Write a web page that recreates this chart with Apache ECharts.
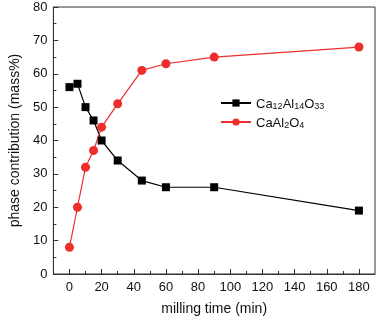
<!DOCTYPE html>
<html>
<head>
<meta charset="utf-8">
<script src="https://cdn.jsdelivr.net/npm/echarts@6/dist/echarts.min.js"></script>
<style>
  html, body { margin: 0; padding: 0; background: #fff; }
  #chart { width: 378px; height: 321px; }
</style>
</head>
<body>
<div id="chart"></div>
<script>
// milling time (min)
const times = [0, 5, 10, 15, 20, 30, 45, 60, 90, 180];
// phase contribution (mass%)
const ca12 = [56, 57, 50, 46, 40, 34, 28, 26, 26, 19];
const caal2 = [8, 20, 32, 37, 44, 51, 61, 63, 65, 68];
// x tick positions
const xMajor = [0, 20, 40, 60, 80, 100, 120, 140, 160, 180];
const xMinor = [10, 30, 50, 70, 90, 110, 130, 150, 170];

const pairs = (ys) => times.map((t, i) => [t, ys[i]]);

const chart = echarts.init(document.getElementById("chart"));
const font = "Liberation Sans, Arial, sans-serif";

const option = {
  animation: false,
  textStyle: { fontFamily: font },
  grid: {
    left: 36,
    right: 3,
    top: 7,
    bottom: 42,
    show: true,
    borderColor: "#333",
    borderWidth: 1,
  },
  legend: {
    left: 215,
    top: 93,
    orient: "vertical",
    itemWidth: 30,
    itemHeight: 9,
    itemGap: 6,
    data: ["Ca12Al14O33", "CaAl2O4"],
    formatter: function (name) {
      // subscripts
      if (name === "Ca12Al14O33") return "{n|Ca}{s|12}{n|Al}{s|14}{n|O}{s|33}";
      return "{n|CaAl}{s|2}{n|O}{s|4}";
    },
    textStyle: {
      rich: {
        n: { fontSize: 13, color: "#111", fontFamily: font, verticalAlign: "bottom", lineHeight: 16 },
        s: { fontSize: 9, color: "#111", fontFamily: font, verticalAlign: "bottom", lineHeight: 12 },
      },
    },
  },
  xAxis: [
    {
      type: "value",
      position: "bottom",
      min: -10,
      max: 190,
      name: "milling time (min)",
      nameLocation: "middle",
      nameGap: 28,
      nameTextStyle: { fontSize: 14, color: "#111", fontFamily: font },
      axisLine: { show: true, onZero: false, lineStyle: { color: "#333" } },
      axisTick: { show: true, inside: true, length: 5, lineStyle: { color: "#333" }, customValues: xMajor },
      axisLabel: { fontSize: 13, color: "#111", margin: 7, customValues: xMajor },
      splitLine: { show: false },
    },
    {
      // minor ticks only
      type: "value",
      position: "bottom",
      offset: 0,
      min: -10,
      max: 190,
      axisLine: { show: false, onZero: false },
      axisTick: { show: true, inside: true, length: 3, lineStyle: { color: "#333" }, customValues: xMinor },
      axisLabel: { show: false },
      splitLine: { show: false },
    },
  ],
  yAxis: {
    type: "value",
    min: 0,
    max: 80,
    interval: 10,
    name: "phase contribution (mass%)",
    nameLocation: "middle",
    nameGap: 24,
    nameTextStyle: { fontSize: 14, color: "#111", fontFamily: font },
    axisLine: { show: true, onZero: false, lineStyle: { color: "#333" } },
    axisTick: { show: true, inside: true, length: 5, lineStyle: { color: "#333" } },
    minorTick: { show: true, splitNumber: 2, length: 3, lineStyle: { color: "#333" } },
    axisLabel: { fontSize: 13, color: "#111", margin: 6 },
    splitLine: { show: false },
  },
  series: [
    {
      name: "Ca12Al14O33",
      type: "line",
      xAxisIndex: 0,
      data: pairs(ca12),
      symbol: "rect",
      symbolSize: 8,
      color: "#000",
      lineStyle: { color: "#000", width: 1.2 },
      itemStyle: { color: "#000" },
    },
    {
      name: "CaAl2O4",
      type: "line",
      xAxisIndex: 0,
      data: pairs(caal2),
      symbol: "circle",
      symbolSize: 9,
      color: "#ee2d2d",
      lineStyle: { color: "#ee2d2d", width: 1.2 },
      itemStyle: { color: "#ee2d2d" },
    },
  ],
};
chart.setOption(option);
</script>
</body>
</html>
